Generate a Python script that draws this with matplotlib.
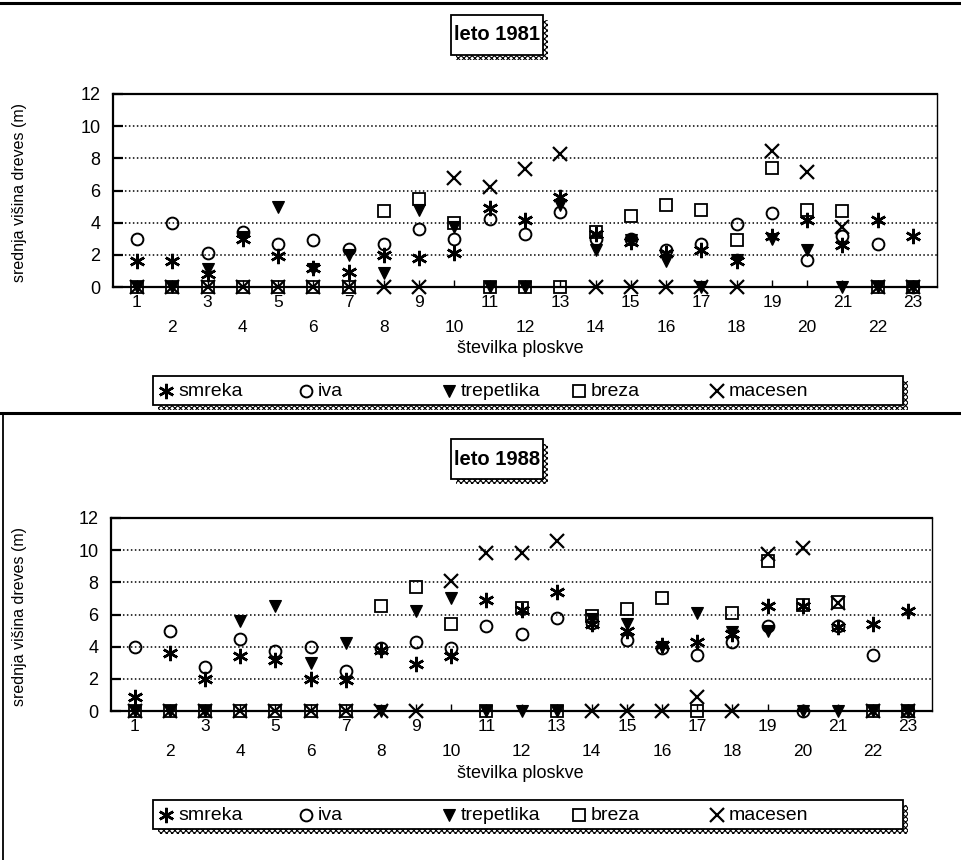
import matplotlib
matplotlib.use('Agg')
import matplotlib.pyplot as plt
from matplotlib.patches import Rectangle
from matplotlib.lines import Line2D
from matplotlib.ticker import FixedLocator, FixedFormatter

plt.rcParams['font.family'] = ['Liberation Sans', 'DejaVu Sans']
plt.rcParams['hatch.linewidth'] = 0.8

ploskve = list(range(1, 24))
vrste = ['smreka', 'iva', 'trepetlika', 'breza', 'macesen']

# leto 1981 - srednja visina (m), 0 = vrste ni na ploskvi
smreka_81 = [1.6, 1.6, 0.8, 3.0, 1.9, 1.2, 0.95, 2.0, 1.8, 2.1, 4.9, 4.15, 5.6, 3.3, 2.8,
             2.1, 2.3, 1.6, 3.2, 4.15, 2.6, 4.15, 3.2]
iva_81 = [3.0, 4.0, 2.1, 3.45, 2.7, 2.9, 2.35, 2.7, 3.6, 3.0, 4.25, 3.3, 4.65, 3.0, 3.0,
          2.3, 2.7, 3.9, 4.6, 1.7, 3.2, 2.7, 0]
trepetlika_81 = [0, 0, 1.1, 3.1, 5.0, 1.1, 2.0, 0.9, 4.8, 3.7, 0, 0, 5.1, 2.3, 2.9,
                 1.6, 0, 1.7, 3.0, 2.3, 0, 0, 0]
breza_81 = [0, 0, 0, 0, 0, 0, 0, 4.75, 5.5, 4.0, 0, 0, 0, 3.4, 4.4,
            5.1, 4.8, 2.95, 7.4, 4.8, 4.7, 0, 0]
macesen_81 = [0, 0, 0, 0, 0, 0, 0, 0, 0, 6.8, 6.2, 7.35, 8.3, 0, 0,
              0, 0, 0, 8.45, 7.15, 3.7, 0, 0]

# leto 1988
smreka_88 = [0.9, 3.6, 2.0, 3.4, 3.15, 2.0, 1.9, 3.8, 2.9, 3.4, 6.9, 6.3, 7.4, 5.4, 5.0,
             4.1, 4.3, 4.8, 6.5, 6.5, 5.2, 5.4, 6.2]
iva_88 = [4.0, 5.0, 2.75, 4.5, 3.75, 4.0, 2.5, 3.9, 4.3, 3.9, 5.3, 4.8, 5.8, 5.5, 4.4,
          3.9, 3.5, 4.3, 5.3, 0, 5.3, 3.5, 0]
trepetlika_88 = [0, 0, 0, 5.6, 6.5, 3.0, 4.2, 0, 6.2, 7.0, 0, 0, 0, 5.7, 5.4,
                 4.0, 6.1, 4.9, 5.0, 0, 0, 0, 0]
breza_88 = [0, 0, 0, 0, 0, 0, 0, 6.55, 7.7, 5.4, 0, 6.4, 0, 5.9, 6.35,
            7.0, 0, 6.1, 9.3, 6.6, 6.8, 0, 0]
macesen_88 = [0, 0, 0, 0, 0, 0, 0, 0, 0, 8.1, 9.85, 9.85, 10.6, 0, 0,
              0, 0.9, 0, 9.75, 10.15, 6.7, 0, 0]

W, H = 962, 860


def fx(x):
    return x / W


def fy(y):
    return 1 - y / H


markers = {
    'smreka': dict(marker=(6, 2, 0), ms=11, mew=1.8, mec='k', mfc='none'),
    'iva': dict(marker='o', ms=8.5, mew=1.4, mec='k', mfc='none'),
    'trepetlika': dict(marker='v', ms=9, mew=0.8, mec='k', mfc='k'),
    'breza': dict(marker='s', ms=8, mew=1.3, mec='k', mfc='none'),
    'macesen': dict(marker='x', ms=9.5, mew=1.6, mec='k'),
}

fig = plt.figure(figsize=(9.62, 8.6), dpi=100)


def shadow_box(x0, y0, w, h):
    fig.add_artist(Rectangle((fx(x0 + 5), fy(y0 + h + 5)), w / W, h / H, transform=fig.transFigure,
                             fc='white', ec='k', hatch='xxxxxx', lw=0))
    fig.add_artist(Rectangle((fx(x0), fy(y0 + h)), w / W, h / H, transform=fig.transFigure,
                             fc='white', ec='k', lw=1.3))


def panel(dy, title, data, left, right):
    # naslov
    shadow_box(451, 15 + dy, 92, 40)
    fig.text(fx(497), fy(35 + dy), title, ha='center', va='center', fontsize=14.5, fontweight='bold')

    top, bottom = 94 + dy, 287 + dy
    ax = fig.add_axes([fx(left), fy(bottom), (right - left) / W, (bottom - top) / H])
    for name, vals in zip(vrste, data):
        ax.plot(ploskve, vals, ls='none', clip_on=False, zorder=3, **markers[name])
    ax.set_xlim(0.32, 23.68)
    ax.set_ylim(0, 12)
    ax.set_yticks(range(0, 13, 2))
    for y in range(2, 12, 2):
        ax.axhline(y, color='k', lw=1.1, ls=(0, (1, 1.6)), zorder=1)
    ax.tick_params(axis='y', direction='in', length=7, width=1.6, labelsize=13, pad=9)
    ax.xaxis.set_major_locator(FixedLocator(ploskve[::2]))
    ax.xaxis.set_minor_locator(FixedLocator(ploskve[1::2]))
    ax.xaxis.set_major_formatter(FixedFormatter([str(p) for p in ploskve[::2]]))
    ax.xaxis.set_minor_formatter(FixedFormatter([str(p) for p in ploskve[1::2]]))
    ax.tick_params(axis='x', which='both', direction='in', length=5, width=1, labelsize=12.5)
    ax.tick_params(axis='x', which='major', pad=6)
    ax.tick_params(axis='x', which='minor', pad=24)
    for s in ['left', 'bottom', 'top']:
        ax.spines[s].set_linewidth(1.6)
    ax.spines['right'].set_linewidth(1.0)

    fig.text(fx(20), fy((top + bottom) / 2 + 2), 'srednja višina dreves (m)', rotation=90,
             ha='center', va='center', fontsize=11.5)
    fig.text(fx(520), fy(349 + dy), 'številka ploskve', ha='center', va='center', fontsize=13)

    # legenda
    shadow_box(153, 376 + dy, 750, 29)
    ly = 391 + dy
    for name, mx in zip(vrste, [166, 306, 449, 579, 717]):
        kw = dict(markers[name])
        fig.add_artist(Line2D([fx(mx)], [fy(ly)], transform=fig.transFigure, ls='none', **kw))
        fig.text(fx(mx + 12), fy(ly), name, ha='left', va='center', fontsize=14)


panel(0, 'leto 1981', [smreka_81, iva_81, trepetlika_81, breza_81, macesen_81], 113, 937)
panel(424, 'leto 1988', [smreka_88, iva_88, trepetlika_88, breza_88, macesen_88], 111, 932)

# okvir
fig.add_artist(Line2D([0, 1], [fy(3), fy(3)], transform=fig.transFigure, color='k', lw=2.2))
fig.add_artist(Line2D([0, 1], [fy(413), fy(413)], transform=fig.transFigure, color='k', lw=2.2))
fig.add_artist(Line2D([fx(3), fx(3)], [fy(413), 0], transform=fig.transFigure, color='k', lw=1.3))

fig.savefig('out.png', dpi=100)
